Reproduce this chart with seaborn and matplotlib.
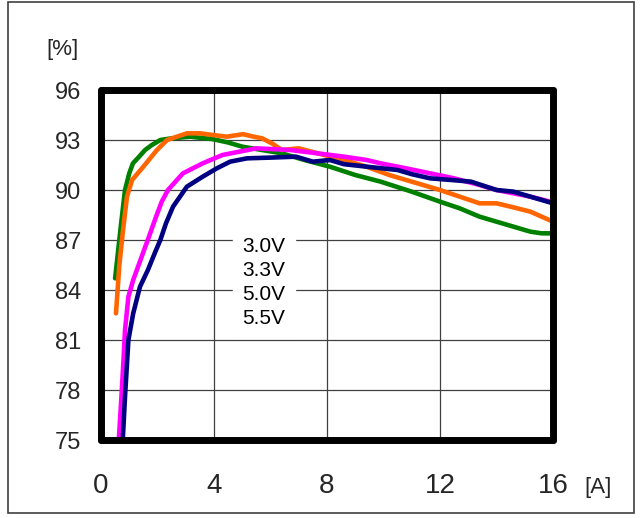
import matplotlib
matplotlib.use("Agg")
import matplotlib.pyplot as plt
import seaborn as sns
import pandas as pd
from matplotlib.lines import Line2D
from matplotlib.patches import Rectangle

# ---- data ----
x_30 = [0.5, 0.7, 0.85, 1.0, 1.13, 1.35, 1.56, 1.8, 2.1, 2.5, 3.15, 3.96, 4.5, 5.0, 5.7, 6.4, 7.2, 8.1, 9.0, 9.9, 11.0, 12.0, 12.7, 13.4, 14.3, 15.2, 15.6, 16.0]
y_30 = [84.7, 87.8, 90.0, 91.0, 91.6, 92.0, 92.4, 92.7, 93.0, 93.1, 93.2, 93.05, 92.85, 92.6, 92.4, 92.2, 91.8, 91.4, 90.9, 90.5, 89.9, 89.3, 88.9, 88.4, 87.95, 87.5, 87.4, 87.4]

x_33 = [0.53, 0.65, 0.78, 0.92, 1.1, 1.5, 1.98, 2.34, 3.04, 3.5, 3.96, 4.46, 5.03, 5.4, 5.7, 6.05, 6.4, 7.0, 7.9, 8.6, 9.4, 10.2, 11.0, 12.0, 12.7, 13.4, 14.0, 14.5, 15.2, 15.6, 16.0]
y_33 = [82.6, 85.5, 87.6, 89.6, 90.6, 91.4, 92.4, 93.0, 93.4, 93.4, 93.3, 93.2, 93.35, 93.2, 93.1, 92.8, 92.4, 92.5, 92.1, 91.8, 91.4, 90.9, 90.5, 90.0, 89.6, 89.2, 89.2, 89.0, 88.7, 88.4, 88.1]

x_50 = [0.63, 0.72, 0.79, 0.85, 0.97, 1.14, 1.44, 1.74, 1.95, 2.15, 2.37, 2.9, 3.6, 4.3, 5.2, 5.5, 6.7, 7.9, 8.6, 9.4, 9.9, 10.8, 11.65, 12.5, 13.4, 14.0, 14.6, 15.2, 15.9, 16.0]
y_50 = [75.0, 77.5, 79.6, 81.6, 83.6, 84.6, 86.0, 87.4, 88.4, 89.3, 90.0, 91.0, 91.6, 92.1, 92.4, 92.5, 92.4, 92.15, 92.0, 91.8, 91.6, 91.3, 91.0, 90.7, 90.3, 90.0, 89.8, 89.6, 89.3, 89.2]

x_55 = [0.77, 0.85, 0.97, 1.14, 1.38, 1.66, 1.9, 2.1, 2.3, 2.55, 3.04, 3.6, 4.1, 4.57, 5.17, 6.1, 6.9, 7.5, 8.1, 8.6, 9.4, 10.5, 11.0, 11.65, 12.4, 13.1, 14.0, 14.6, 15.2, 16.0]
y_55 = [75.0, 77.6, 81.0, 82.6, 84.2, 85.2, 86.2, 87.0, 88.0, 89.0, 90.2, 90.8, 91.3, 91.7, 91.9, 91.95, 92.0, 91.7, 91.8, 91.55, 91.4, 91.2, 90.95, 90.7, 90.6, 90.5, 90.0, 89.9, 89.6, 89.2]

series_names = ["3.0V", "3.3V", "5.0V", "5.5V"]
series_colors = ["#008000", "#FF6600", "#FF00FF", "#000080"]
x_ticks = [0, 4, 8, 12, 16]
y_ticks = [75, 78, 81, 84, 87, 90, 93, 96]

frames = []
for name, xs, ys in zip(series_names, [x_30, x_33, x_50, x_55], [y_30, y_33, y_50, y_55]):
    frames.append(pd.DataFrame({"I": xs, "eff": ys, "V": name}))
df = pd.concat(frames, ignore_index=True)

sns.set_theme(style="white")
plt.rcParams["font.family"] = ["Liberation Sans", "DejaVu Sans"]

fig = plt.figure(figsize=(6.41, 5.18), dpi=100)
ax = fig.add_axes([101 / 641, 1 - 440 / 518, 452 / 641, 350 / 518])

sns.lineplot(data=df, x="I", y="eff", hue="V", palette=dict(zip(series_names, series_colors)),
             linewidth=3.3, ax=ax, legend=False, sort=False, estimator=None)

ax.set_xlim(0, 16)
ax.set_ylim(75, 96)
ax.set_xticks(x_ticks)
ax.set_yticks(y_ticks)
ax.set_xticklabels([str(t) for t in x_ticks], fontsize=20)
ax.set_yticklabels([str(t) for t in y_ticks], fontsize=17)
ax.tick_params(axis="x", length=0, pad=24)
ax.tick_params(axis="y", length=0, pad=14)
ax.set_xlabel("")
ax.set_ylabel("")
ax.grid(True, color="#404040", linewidth=0.9)
ax.set_axisbelow(True)
for sp in ax.spines.values():
    sp.set_visible(True)
    sp.set_color("black")
    sp.set_linewidth(5)
    sp.set_capstyle("round")

fig.text(63 / 641, 1 - 50 / 518, "[%]", fontsize=16, ha="center", va="center")
fig.text(598 / 641, 1 - 487 / 518, "[A]", fontsize=16, ha="center", va="center")

handles = [Line2D([], [], color=c, linewidth=0) for c in series_colors]
leg = ax.legend(handles, series_names, loc="center", bbox_to_anchor=(0.36, 0.45),
                handlelength=0, handletextpad=0, fontsize=15, frameon=True,
                framealpha=1, facecolor="white", edgecolor="white",
                labelspacing=0.25, borderpad=0.45, fancybox=False)
for t in leg.get_texts():
    t.set_color("black")

fig.patches.append(Rectangle((8 / 641, 1 - 513 / 518), 626 / 641, 511 / 518,
                             transform=fig.transFigure, fill=False,
                             edgecolor="#404040", linewidth=1.2))

fig.savefig("out.png", dpi=100, facecolor="white")
